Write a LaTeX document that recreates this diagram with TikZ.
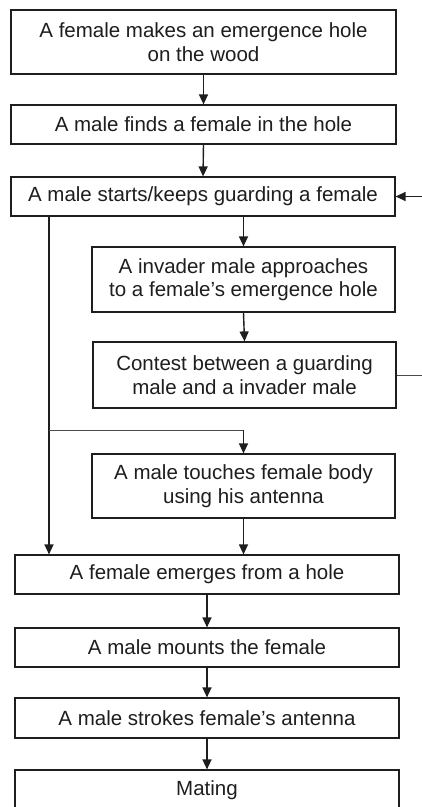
\documentclass[tikz,border=0pt]{standalone}
\usepackage{fontspec}
\setmainfont{Liberation Sans}
\usetikzlibrary{arrows.meta}
\definecolor{ink}{HTML}{1E1E1E}
\tikzset{
  box/.style={draw=ink, line width=1.2pt, rectangle, align=center, inner sep=0pt,
    font=\fontsize{20.5}{23.5}\selectfont, text=ink},
  flow/.style={draw=ink, line width=1.4pt, -{Triangle[length=10pt,width=9pt]}},
  thin/.style={draw=ink!80, line width=0.9pt},
  thinarrow/.style={thin, -{Triangle[length=10pt,width=9pt]}, line width=1.1pt}
}
\begin{document}
\begin{tikzpicture}[x=1pt,y=-1pt]
\useasboundingbox (0,0) rectangle (422,807);
\clip (0,0) rectangle (422,807);
\fill[white] (0,0) rectangle (422,807);
\node[box, minimum width=385pt, minimum height=64pt] (b1) at (203.5,42) {A female makes an emergence hole\\on the wood};
\node[box, minimum width=385pt, minimum height=39pt] (b2) at (203.5,124.5) {A male finds a female in the hole};
\node[box, minimum width=384pt, minimum height=39pt] (b3) at (203,196.5) {A male starts/keeps guarding a female};
\node[box, minimum width=303pt, minimum height=65pt] (b4) at (243.5,279.5) {A invader male approaches\\to a female’s emergence hole};
\node[box, minimum width=303pt, minimum height=66pt] (b5) at (244.5,375) {Contest between a guarding\\male and a invader male};
\node[box, minimum width=303pt, minimum height=64pt] (b6) at (243.5,486) {A male touches female body\\using his antenna};
\node[box, minimum width=384pt, minimum height=39pt] (b7) at (207,574.5) {A female emerges from a hole};
\node[box, minimum width=384pt, minimum height=39pt] (b8) at (207,647.5) {A male mounts the female};
\node[box, minimum width=384pt, minimum height=40pt] (b9) at (207,718) {A male strokes female’s antenna};
\node[box, minimum width=384pt, minimum height=40pt] (b10) at (207,790) {Mating};
\coordinate (L) at (49,0);
\coordinate (R) at (440,0);
\coordinate (br) at (0,430);
\draw[flow] (b1.south) -- (b2.north);
\draw[flow] (b2.south) -- (b3.north);
\draw[flow] (b4.north |- b3.south) -- (b4.north);
\draw[flow] (b4.south) -- (b5.north);
\draw[flow] (b3.south -| L) -- (b7.north -| L);
\draw[thin] (br -| L) -- (br -| b6.north);
\draw[flow] (br -| b6.north) -- (b6.north);
\draw[flow] (b6.south) -- (b6.south |- b7.north);
\draw[flow] (b7.south) -- (b8.north);
\draw[flow] (b8.south) -- (b9.north);
\draw[flow] (b9.south) -- (b10.north);
\draw[thin] (b5.east) -- (b5.east -| R) -- (b3.east -| R);
\draw[flow] (b3.east -| R) -- (b3.east);
\end{tikzpicture}
\end{document}
